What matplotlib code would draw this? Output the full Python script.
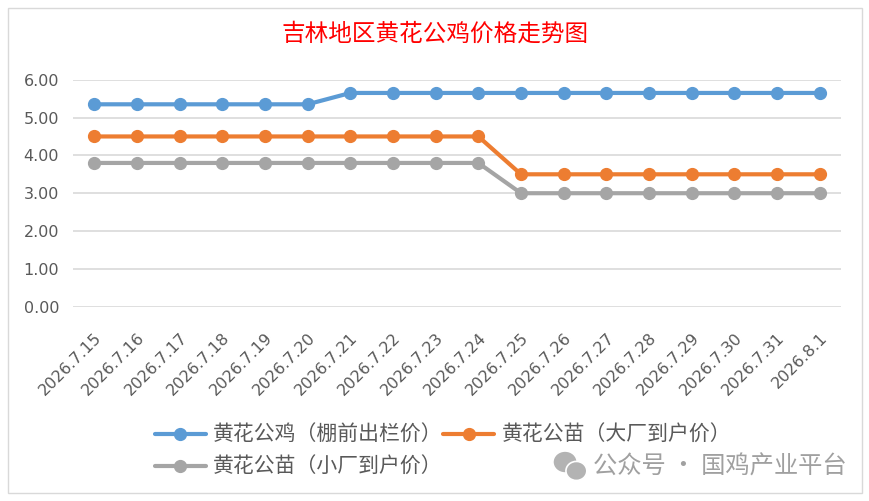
#!/usr/bin/env python3
import matplotlib

matplotlib.use("Agg")
import matplotlib.pyplot as plt
from matplotlib.patches import Ellipse, Rectangle

plt.rcParams["font.family"] = ["DejaVu Sans", "Noto Sans CJK SC"]

TITLE = "吉林地区黄花公鸡价格走势图"
DATES = [
    "2026.7.15", "2026.7.16", "2026.7.17", "2026.7.18", "2026.7.19", "2026.7.20",
    "2026.7.21", "2026.7.22", "2026.7.23", "2026.7.24", "2026.7.25", "2026.7.26",
    "2026.7.27", "2026.7.28", "2026.7.29", "2026.7.30", "2026.7.31", "2026.8.1",
]
ROOSTER = [5.35] * 6 + [5.65] * 12
CHICK_BIG = [4.5] * 10 + [3.5] * 8
CHICK_SMALL = [3.8] * 10 + [3.0] * 8
NAMES = ["黄花公鸡（棚前出栏价）", "黄花公苗（大厂到户价）", "黄花公苗（小厂到户价）"]
COLORS = ["#5B9BD5", "#ED7D31", "#A5A5A5"]
YTICKS = [0, 1, 2, 3, 4, 5, 6]
WATERMARK = "公众号 · 国鸡产业平台"

TEXT_GRAY = "#595959"
CJK = ["Noto Sans CJK SC", "DejaVu Sans"]


def main():
    fig = plt.figure(figsize=(8.7, 5.01), dpi=100)
    ax = fig.add_axes([0.0839, 0.3878, 0.8828, 0.4531])

    x = list(range(len(DATES)))
    lines = []
    for vals, name, color in zip([ROOSTER, CHICK_BIG, CHICK_SMALL], NAMES, COLORS):
        (ln,) = ax.plot(
            x, vals, color=color, lw=3, marker="o", markersize=8.5,
            label=name, solid_capstyle="round", zorder=3,
        )
        lines.append(ln)

    ax.set_xlim(-0.5, len(DATES) - 0.5)
    ax.set_ylim(0, 6)
    ax.set_yticks(YTICKS)
    ax.set_yticklabels([f"{v:.2f}" for v in YTICKS], fontsize=11.5, color=TEXT_GRAY)
    ax.set_xticks(x)
    ax.set_xticklabels(
        DATES, rotation=45, ha="right", va="top", rotation_mode="anchor",
        fontsize=11.5, color=TEXT_GRAY,
    )
    ax.tick_params(axis="both", length=0)
    ax.tick_params(axis="x", pad=17)
    ax.tick_params(axis="y", pad=10)
    ax.grid(axis="y", color="#D9D9D9", lw=1.2, zorder=0)
    for side in ["top", "right", "left", "bottom"]:
        ax.spines[side].set_visible(False)

    fig.text(0.5, 0.932, TITLE, ha="center", va="center", fontsize=17,
             color="#FF0000", family=CJK)

    # row-wise order like excel: blue, orange / gray
    fig.legend(
        handles=[lines[0], lines[2], lines[1]],
        labels=[NAMES[0], NAMES[2], NAMES[1]],
        ncol=2, loc="upper left", bbox_to_anchor=(0.178, 0.154),
        frameon=False, borderpad=0, borderaxespad=0,
        handlelength=2.45, handletextpad=0.33, columnspacing=0.05,
        labelspacing=0.5, labelcolor=TEXT_GRAY,
        prop={"family": CJK, "size": 15},
    )

    # watermark
    fig.patches.append(Ellipse((0.6495, 0.0778), 0.028, 0.044, transform=fig.transFigure,
                               facecolor="#B3B3B3", edgecolor="white", lw=1.2))
    fig.patches.append(Ellipse((0.6625, 0.0600), 0.024, 0.038, transform=fig.transFigure,
                               facecolor="#B3B3B3", edgecolor="white", lw=1.2))
    fig.text(0.682, 0.068, WATERMARK, ha="left", va="center", fontsize=17.5,
             color="#A0A0A0", family=CJK)

    fig.patches.append(Rectangle((8 / 870, 8 / 501), 854 / 870, 485 / 501,
                                 transform=fig.transFigure, fill=False,
                                 edgecolor="#D9D9D9", lw=1))

    fig.savefig("out.png", dpi=100)


if __name__ == "__main__":
    main()
